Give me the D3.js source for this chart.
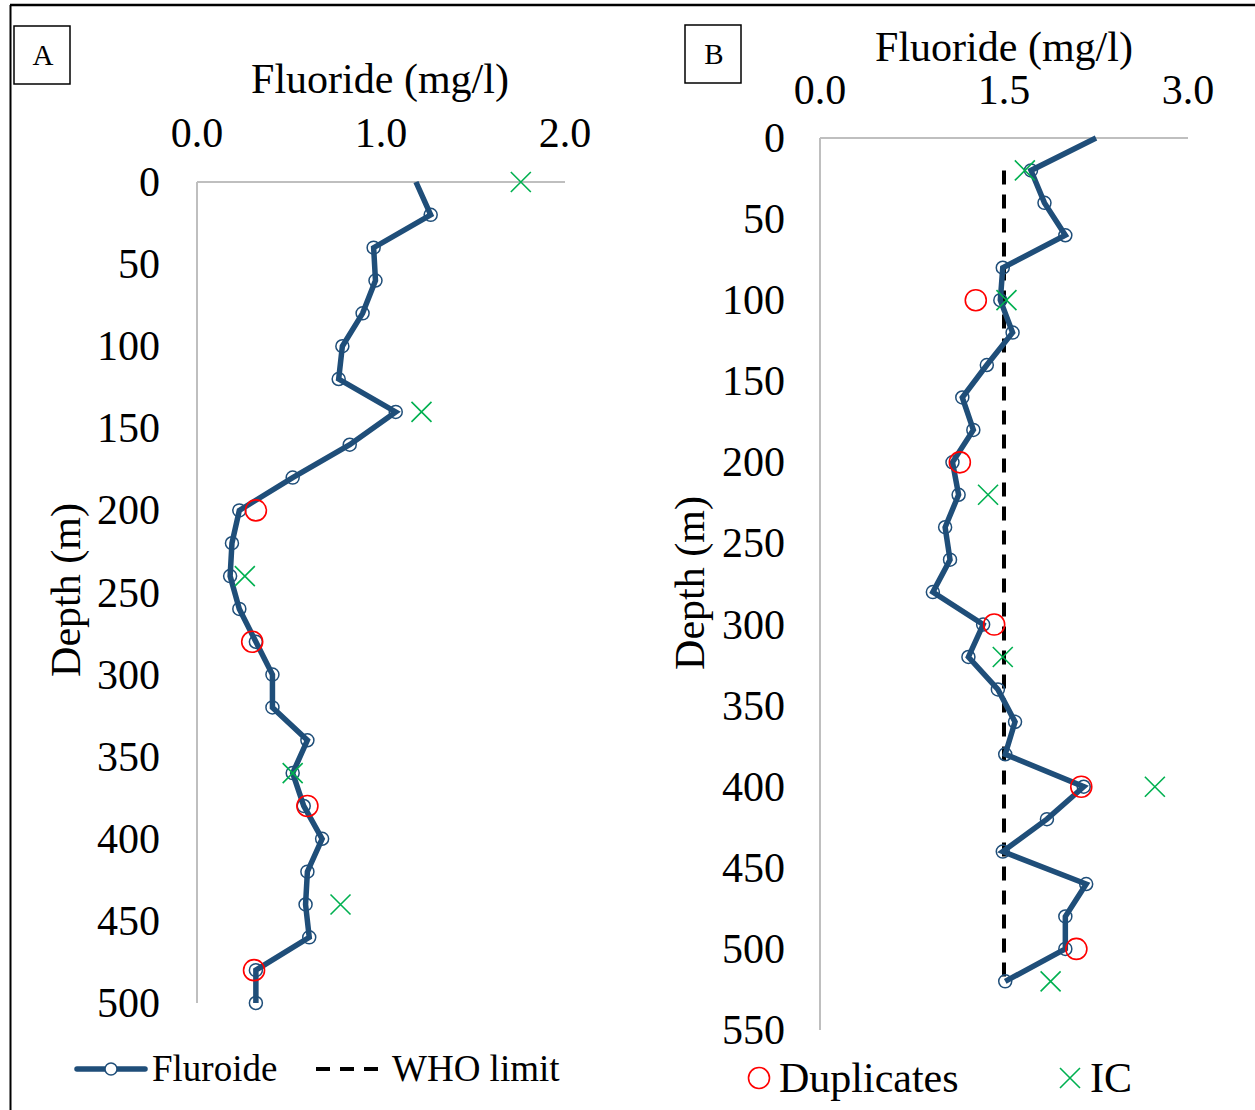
<!DOCTYPE html>
<html>
<head>
<meta charset="utf-8">
<script src="https://cdn.jsdelivr.net/npm/d3@7"></script>
<style>
  html, body { margin: 0; padding: 0; background: #fff; }
  svg { display: block; }
  text { font-family: "Liberation Serif", "Times New Roman", serif; fill: #000; }
</style>
</head>
<body>
<svg id="chart" width="1255" height="1110"></svg>
<script>
// Well A: fluoride profile (mg/l) sampled every 20 m
const depthsA = [0, 20, 40, 60, 80, 100, 120, 140, 160, 180, 200, 220, 240, 260, 280, 300, 320, 340, 360, 380, 400, 420, 440, 460, 480, 500];
const fluorideA = [1.19, 1.27, 0.96, 0.97, 0.90, 0.79, 0.77, 1.08, 0.83, 0.52, 0.23, 0.19, 0.18, 0.23, 0.32, 0.41, 0.41, 0.60, 0.52, 0.58, 0.68, 0.60, 0.59, 0.61, 0.32, 0.32];
const dupDepthsA = [200, 280, 380, 480];
const dupValuesA = [0.32, 0.30, 0.60, 0.31];
const icDepthsA = [0, 140, 240, 360, 440];
const icValuesA = [1.76, 1.22, 0.26, 0.52, 0.78];

// Well B: fluoride profile (mg/l) sampled every 20 m
const depthsB = [0, 20, 40, 60, 80, 100, 120, 140, 160, 180, 200, 220, 240, 260, 280, 300, 320, 340, 360, 380, 400, 420, 440, 460, 480, 500, 520];
const fluorideB = [2.25, 1.72, 1.83, 2.00, 1.49, 1.47, 1.57, 1.36, 1.16, 1.25, 1.08, 1.13, 1.02, 1.06, 0.92, 1.33, 1.21, 1.45, 1.59, 1.51, 2.15, 1.85, 1.49, 2.17, 2.00, 2.00, 1.51];
const dupDepthsB = [100, 200, 300, 400, 500];
const dupValuesB = [1.27, 1.14, 1.42, 2.13, 2.09];
const icDepthsB = [20, 100, 220, 320, 400, 520];
const icValuesB = [1.67, 1.52, 1.37, 1.49, 2.73, 1.88];
const whoLimit = 1.5;
const whoDepths = [20, 520];

// Axis ticks
const xTicksA = [0, 1, 2];
const yTicksA = [0, 50, 100, 150, 200, 250, 300, 350, 400, 450, 500];
const xTicksB = [0, 1.5, 3];
const yTicksB = [0, 50, 100, 150, 200, 250, 300, 350, 400, 450, 500, 550];

const LINE = "#1f4e79", RED = "#ff0000", GREEN = "#00b050", AXIS = "#bfbfbf";
const svg = d3.select("#chart");

// Outer frame
svg.append("line").attr("x1", 10).attr("x2", 1255).attr("y1", 5).attr("y2", 5)
  .attr("stroke", "#000").attr("stroke-width", 2.5);
svg.append("line").attr("x1", 10.5).attr("x2", 10.5).attr("y1", 5).attr("y2", 1110)
  .attr("stroke", "#000").attr("stroke-width", 2);

function cross(g, x, y, r) {
  g.append("path")
    .attr("d", `M${x - r},${y - r}L${x + r},${y + r}M${x - r},${y + r}L${x + r},${y - r}`)
    .attr("stroke", GREEN).attr("stroke-width", 1.6).attr("fill", "none");
}

function panel(cfg) {
  const g = svg.append("g");
  const x = d3.scaleLinear().domain(cfg.xDomain).range(cfg.xRange);
  const y = d3.scaleLinear().domain(cfg.yDomain).range(cfg.yRange);

  // axis lines
  g.append("line").attr("x1", x(cfg.xDomain[0])).attr("x2", x(cfg.xDomain[1]))
    .attr("y1", y(0)).attr("y2", y(0)).attr("stroke", AXIS).attr("stroke-width", 2);
  g.append("line").attr("x1", x(0)).attr("x2", x(0))
    .attr("y1", y(0)).attr("y2", y(cfg.yDomain[1])).attr("stroke", AXIS).attr("stroke-width", 2);

  // x tick labels (top)
  g.selectAll(".xt").data(cfg.xTicks).enter().append("text")
    .attr("x", d => x(d)).attr("y", cfg.xTickY + 14)
    .attr("text-anchor", "middle").attr("font-size", 42)
    .text(d => d.toFixed(1));
  // y tick labels
  g.selectAll(".yt").data(cfg.yTicks).enter().append("text")
    .attr("x", cfg.yTickX).attr("y", d => y(d) + 14)
    .attr("text-anchor", "end").attr("font-size", 42)
    .text(d => d);

  // axis titles
  g.append("text").attr("x", cfg.xTitle[0]).attr("y", cfg.xTitle[1] + 14)
    .attr("text-anchor", "middle").attr("font-size", 42).text("Fluoride (mg/l)");
  g.append("text")
    .attr("transform", `translate(${cfg.yTitle[0] + 14},${cfg.yTitle[1]}) rotate(-90)`)
    .attr("text-anchor", "middle").attr("font-size", 42).text("Depth (m)");

  // panel letter box
  g.append("rect").attr("x", cfg.box[0]).attr("y", cfg.box[1]).attr("width", 56).attr("height", 58)
    .attr("fill", "none").attr("stroke", "#000").attr("stroke-width", 1.5);
  g.append("text").attr("x", cfg.box[0] + 29).attr("y", cfg.box[1] + 39)
    .attr("text-anchor", "middle").attr("font-size", 29).text(cfg.letter);

  // WHO limit
  if (cfg.who) {
    g.append("line").attr("x1", x(whoLimit)).attr("x2", x(whoLimit))
      .attr("y1", y(whoDepths[0])).attr("y2", y(whoDepths[1]))
      .attr("stroke", "#000").attr("stroke-width", 4).attr("stroke-dasharray", "14,10");
  }

  // fluoride profile
  const pts = cfg.depths.map((d, i) => [cfg.values[i], d]);
  g.append("path").datum(pts)
    .attr("d", d3.line().x(p => x(p[0])).y(p => y(p[1])))
    .attr("fill", "none").attr("stroke", LINE).attr("stroke-width", 5.5)
    .attr("stroke-linejoin", "miter");
  g.selectAll(".mk").data(pts.filter(p => p[1] > 0)).enter().append("circle")
    .attr("cx", p => x(p[0])).attr("cy", p => y(p[1])).attr("r", 6.5)
    .attr("fill", "none").attr("stroke", LINE).attr("stroke-width", 1.5);

  // duplicates
  g.selectAll(".dup").data(cfg.dupDepths).enter().append("circle")
    .attr("cx", (d, i) => x(cfg.dupValues[i])).attr("cy", d => y(d)).attr("r", 10.5)
    .attr("fill", "none").attr("stroke", RED).attr("stroke-width", 1.6);

  // ion chromatography
  cfg.icDepths.forEach((d, i) => cross(g, x(cfg.icValues[i]), y(d), 10));
}

panel({
  letter: "A", box: [14, 26],
  xDomain: [0, 2], xRange: [197, 565], yDomain: [0, 500], yRange: [182, 1003],
  xTicks: xTicksA, yTicks: yTicksA, xTickY: 133, yTickX: 160,
  xTitle: [380, 79], yTitle: [66, 590],
  depths: depthsA, values: fluorideA,
  dupDepths: dupDepthsA, dupValues: dupValuesA,
  icDepths: icDepthsA, icValues: icValuesA, who: false
});

panel({
  letter: "B", box: [685, 25],
  xDomain: [0, 3], xRange: [820, 1188], yDomain: [0, 550], yRange: [138, 1030],
  xTicks: xTicksB, yTicks: yTicksB, xTickY: 90, yTickX: 785,
  xTitle: [1004, 47], yTitle: [690, 583],
  depths: depthsB, values: fluorideB,
  dupDepths: dupDepthsB, dupValues: dupValuesB,
  icDepths: icDepthsB, icValues: icValuesB, who: true
});

// Legends
const lg = svg.append("g");
lg.append("line").attr("x1", 77).attr("x2", 145).attr("y1", 1069).attr("y2", 1069)
  .attr("stroke", LINE).attr("stroke-width", 5.5).attr("stroke-linecap", "round");
lg.append("circle").attr("cx", 111).attr("cy", 1069).attr("r", 6)
  .attr("fill", "#fff").attr("stroke", LINE).attr("stroke-width", 1.5);
lg.append("text").attr("x", 152).attr("y", 1081).attr("font-size", 37).text("Fluroide");
lg.append("line").attr("x1", 316).attr("x2", 388).attr("y1", 1069).attr("y2", 1069)
  .attr("stroke", "#000").attr("stroke-width", 4).attr("stroke-dasharray", "14,10");
lg.append("text").attr("x", 392).attr("y", 1081).attr("font-size", 37).text("WHO limit");

lg.append("circle").attr("cx", 759).attr("cy", 1078).attr("r", 10.5)
  .attr("fill", "none").attr("stroke", RED).attr("stroke-width", 1.6);
lg.append("text").attr("x", 779).attr("y", 1092).attr("font-size", 42).text("Duplicates");
cross(lg, 1070, 1078, 10);
lg.append("text").attr("x", 1090).attr("y", 1092).attr("font-size", 42).text("IC");
</script>
</body>
</html>
